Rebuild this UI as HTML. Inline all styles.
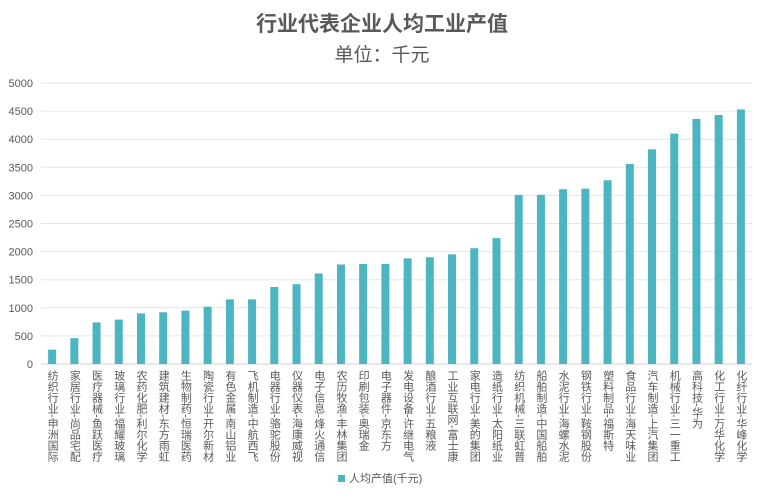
<!DOCTYPE html>
<html><head><meta charset="utf-8"><style>
body{margin:0;background:#fff;font-family:"Liberation Sans","Noto Sans CJK SC",sans-serif;}
#wrap{position:relative;width:764px;height:495px;overflow:hidden;}
.lbl{position:absolute;top:370px;writing-mode:vertical-rl;font-size:11px;color:#595959;line-height:12px;white-space:nowrap;}
</style></head><body>
<div id="wrap">
<div style="position:absolute;top:8px;width:764px;text-align:center;font-size:21px;font-weight:bold;color:#595959;">行业代表企业人均工业产值</div>
<div style="position:absolute;top:40px;width:764px;text-align:center;font-size:19px;color:#595959;">单位：千元</div>
<svg id="svg" width="764" height="495" style="position:absolute;left:0;top:0"></svg>
<div id="labels"></div>
<div style="position:absolute;top:470px;left:338px;font-size:11px;color:#595959;"><span style="display:inline-block;width:7px;height:7px;background:#4bb5c1;margin-right:4px;"></span>人均产值(千元)</div>
</div>
<script>
const categories=["纺织行业-申洲国际","家居行业-尚品宅配","医疗器械-鱼跃医疗","玻璃行业-福耀玻璃","农药化肥-利尔化学","建筑建材-东方雨虹","生物制药-恒瑞医药","陶瓷行业-开尔新材","有色金属-南山铝业","飞机制造-中航西飞","电器行业-骆驼股份","仪器仪表-海康威视","电子信息-烽火通信","农历牧渔-丰林集团","印刷包装-奥瑞金","电子器件-京东方","发电设备-许继电气","酿酒行业-五粮液","工业互联网-富士康","家电行业-美的集团","造纸行业-太阳纸业","纺织机械-三联虹普","船舶制造-中国船舶","水泥行业-海螺水泥","钢铁行业-鞍钢股份","塑料制品-福斯特","食品行业-海天味业","汽车制造-上汽集团","机械行业-三一重工","高科技-华为","化工行业-万华化学","化纤行业-华峰化学"];
const values=[255,460,740,790,900,920,950,1020,1150,1150,1370,1420,1610,1770,1780,1780,1880,1900,1950,2060,2240,3010,3010,3110,3120,3270,3560,3820,4100,4360,4430,4530];
const ticks=[0,500,1000,1500,2000,2500,3000,3500,4000,4500,5000];
const L=41,R=752,T=83,B=364,max=5000;
const y=v=>B-(v/max)*(B-T);
const step=(R-L)/categories.length;
const x=i=>L+step*(i+0.5);
const svg=document.getElementById('svg');const NS='http://www.w3.org/2000/svg';
ticks.forEach(t=>{
 const ln=document.createElementNS(NS,'line');
 
 
 ln.setAttribute('x1',L);ln.setAttribute('x2',R);ln.setAttribute('y1',y(t));ln.setAttribute('y2',y(t));
 ln.setAttribute('stroke',t===0?'#d0d0d0':'#e6e6e6');ln.setAttribute('stroke-width','1');
 svg.appendChild(ln);
 const tx=document.createElementNS(NS,'text');
 
 
 tx.setAttribute('x',L-8);tx.setAttribute('y',y(t)+4);tx.setAttribute('text-anchor','end');
 tx.setAttribute('font-size','11');tx.setAttribute('fill','#595959');tx.setAttribute('font-family','Liberation Sans, sans-serif');
 tx.textContent=t;svg.appendChild(tx);
});
const bw=8;
const lab=document.getElementById('labels');
values.forEach((v,i)=>{
 const r=document.createElementNS(NS,'rect');
 
 
 r.setAttribute('x',x(i)-bw/2);r.setAttribute('y',y(v));r.setAttribute('width',bw);r.setAttribute('height',B-y(v));
 r.setAttribute('fill','#4bb5c1');svg.appendChild(r);
 const d=document.createElement('div');
 
 
 d.className='lbl';d.style.left=(x(i)-6)+'px';d.textContent=categories[i];lab.appendChild(d);
});
</script>
</body></html>
